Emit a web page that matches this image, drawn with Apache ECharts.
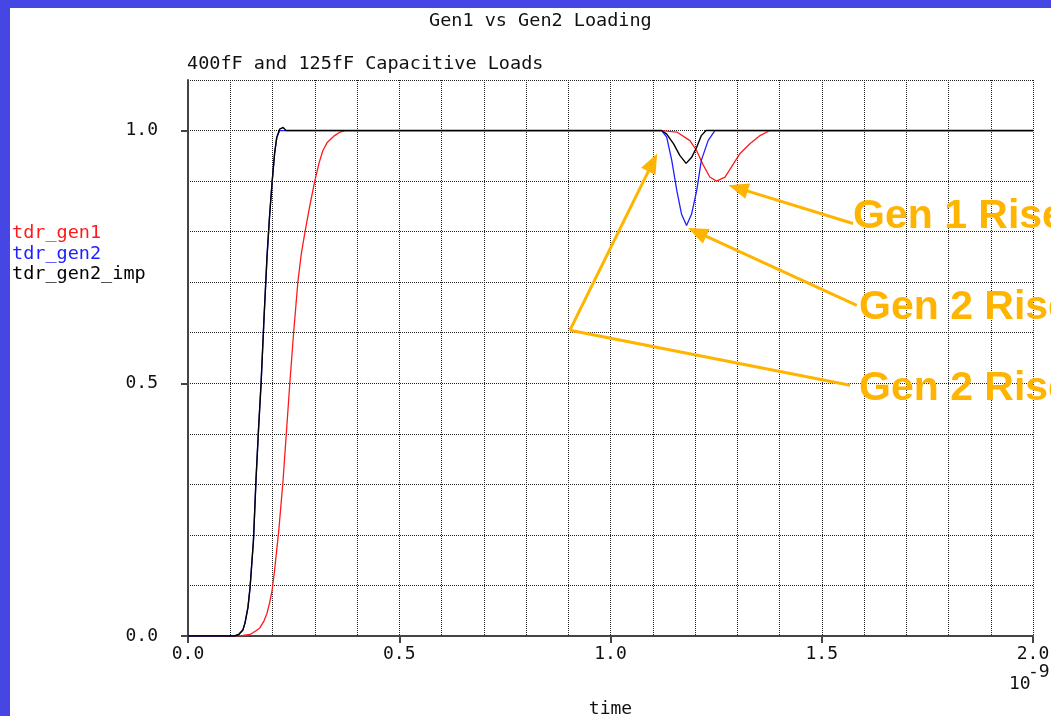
<!DOCTYPE html>
<html>
<head>
<meta charset="utf-8">
<script src="https://cdn.jsdelivr.net/npm/echarts@6/dist/echarts.min.js"></script>
<style>
  html, body { margin: 0; padding: 0; }
  body { width: 1051px; height: 716px; background: #4646e4; position: relative; overflow: hidden; }
  #panel { position: absolute; left: 10px; top: 8px; width: 1041px; height: 708px; background: #fff; }
  #chart { position: absolute; left: 0; top: 0; width: 1051px; height: 716px; }
</style>
</head>
<body>
<div id="panel"></div>
<div id="chart"></div>
<script>
// time in ns
const gen1Time = [0, 0.11, 0.13, 0.147, 0.16, 0.17, 0.18, 0.187, 0.193, 0.199, 0.205, 0.215, 0.225, 0.241, 0.25, 0.26, 0.268, 0.277, 0.288, 0.3, 0.31, 0.319, 0.33, 0.347, 0.36, 0.372,
  1.121, 1.157, 1.188, 1.204, 1.22, 1.235, 1.251, 1.271, 1.291, 1.306, 1.33, 1.354, 1.377, 2.0];
const gen1Val = [0, 0, 0.001, 0.003, 0.01, 0.016, 0.03, 0.045, 0.065, 0.09, 0.13, 0.21, 0.308, 0.5, 0.6, 0.7, 0.755, 0.8, 0.85, 0.9, 0.935, 0.96, 0.977, 0.99, 0.997, 1.0,
  1.0, 0.997, 0.98, 0.96, 0.931, 0.908, 0.9, 0.908, 0.934, 0.954, 0.974, 0.99, 1.0, 1.0];

const gen2Time = [0, 0.11, 0.12, 0.13, 0.135, 0.142, 0.147, 0.155, 0.161, 0.167, 0.173, 0.18, 0.187, 0.193, 0.199, 0.205, 0.21, 0.217, 0.225, 0.232, 0.24,
  1.121, 1.133, 1.145, 1.157, 1.168, 1.18, 1.192, 1.204, 1.215, 1.231, 1.247, 2.0];
const gen2Val = [0, 0, 0.003, 0.012, 0.026, 0.057, 0.097, 0.19, 0.31, 0.41, 0.5, 0.63, 0.75, 0.83, 0.897, 0.955, 0.986, 1.0, 1.0, 1.0, 1.0,
  1.0, 0.987, 0.941, 0.881, 0.835, 0.812, 0.835, 0.881, 0.941, 0.98, 1.0, 1.0];

const impTime = [0, 0.11, 0.12, 0.13, 0.135, 0.142, 0.147, 0.155, 0.161, 0.167, 0.173, 0.18, 0.187, 0.193, 0.199, 0.205, 0.21, 0.217, 0.225, 0.232, 0.24,
  1.121, 1.133, 1.149, 1.164, 1.179, 1.192, 1.204, 1.215, 1.226, 2.0];
const impVal = [0, 0, 0.003, 0.012, 0.026, 0.057, 0.097, 0.19, 0.31, 0.41, 0.5, 0.63, 0.75, 0.83, 0.897, 0.955, 0.986, 1.003, 1.006, 1.0, 1.0,
  1.0, 0.993, 0.974, 0.951, 0.935, 0.947, 0.967, 0.99, 1.0, 1.0];

const seriesNames = ['tdr_gen1', 'tdr_gen2', 'tdr_gen2_imp'];
const xLabelValues = [0, 0.5, 1.0, 1.5, 2.0];
const yLabelValues = [0, 0.5, 1.0];

const zip = (t, v) => t.map((x, i) => [x, v[i]]);

const mono = '"DejaVu Sans Mono", monospace';
const sans = '"Liberation Sans", Arial, sans-serif';
const orange = '#FFB400';
const colors = ['#ff1a1a', '#2020ff', '#000000'];
const gridLine = { show: true, lineStyle: { color: '#222', type: [1, 1], width: 1 } };

// annotation arrows, in data coords (time, value)
const arrowLine = (from, to, head) => [
  { coord: from, symbol: 'none' },
  { coord: to, symbol: head ? 'triangle' : 'none' }
];

const chart = echarts.init(document.getElementById('chart'));

const option = {
  animation: false,
  backgroundColor: 'transparent',
  title: [
    { text: 'Gen1 vs Gen2 Loading', left: 429, top: 12, padding: 0,
      textStyle: { fontFamily: mono, fontSize: 18.5, fontWeight: 'normal', color: '#111' } },
    { text: '400fF and 125fF Capacitive Loads', left: 187, top: 55, padding: 0,
      textStyle: { fontFamily: mono, fontSize: 18.5, fontWeight: 'normal', color: '#111' } }
  ],
  legend: {
    orient: 'vertical',
    left: 7,
    top: 222.5,
    padding: 0,
    itemWidth: 0,
    itemHeight: 0,
    itemGap: 0,
    selectedMode: false,
    textStyle: { fontFamily: mono, fontSize: 18.5, lineHeight: 20.8 },
    data: seriesNames.map((n, i) => ({ name: n, icon: 'rect', textStyle: { color: colors[i] } }))
  },
  grid: { left: 188, top: 80, right: 18, bottom: 80, outerBoundsMode: 'none', containLabel: false },
  xAxis: [
    {
      type: 'value',
      min: 0,
      max: 2.0,
      interval: 0.1,
      name: 'time',
      nameLocation: 'middle',
      nameGap: 64,
      nameTextStyle: { fontFamily: mono, fontSize: 18, color: '#111' },
      axisLine: { lineStyle: { color: '#444', width: 2 } },
      axisTick: { customValues: xLabelValues, length: 7, lineStyle: { color: '#444', width: 2 } },
      axisLabel: { customValues: xLabelValues, margin: 9, fontFamily: mono, fontSize: 18, color: '#111',
        formatter: v => v.toFixed(1) },
      splitLine: { show: false },
      z: 3
    },
    {
      // grid lines every 0.1
      type: 'value', min: 0, max: 2.0, interval: 0.1, position: 'bottom',
      axisLine: { show: false }, axisTick: { show: false }, axisLabel: { show: false },
      splitLine: gridLine, z: 1
    }
  ],
  yAxis: [
    {
      type: 'value',
      min: 0,
      max: 1.1,
      interval: 0.1,
      axisLine: { show: true, lineStyle: { color: '#444', width: 2 } },
      axisTick: { show: true, customValues: yLabelValues, length: 7, lineStyle: { color: '#444', width: 2 } },
      axisLabel: { customValues: yLabelValues, margin: 30, fontFamily: mono, fontSize: 18, color: '#111',
        formatter: v => v.toFixed(1) },
      splitLine: { show: false },
      z: 3
    },
    {
      type: 'value', min: 0, max: 1.1, interval: 0.1, position: 'left',
      axisLine: { show: false }, axisTick: { show: false }, axisLabel: { show: false },
      splitLine: gridLine, z: 1
    }
  ],
  series: [
    { name: seriesNames[0], type: 'line', data: zip(gen1Time, gen1Val), showSymbol: false,
      color: colors[0], lineStyle: { width: 1.3 }, z: 3 },
    { name: seriesNames[1], type: 'line', data: zip(gen2Time, gen2Val), showSymbol: false,
      color: colors[1], lineStyle: { width: 1.3 }, z: 4 },
    { name: seriesNames[2], type: 'line', data: zip(impTime, impVal), showSymbol: false,
      color: colors[2], lineStyle: { width: 1.4 }, z: 5,
      markLine: {
        silent: true,
        symbolSize: [16, 20],
        label: { show: false },
        lineStyle: { color: orange, width: 3, type: 'solid' },
        emphasis: { disabled: true },
        data: [
          arrowLine([1.574, 0.816], [1.302, 0.886], true),
          arrowLine([1.583, 0.654], [1.205, 0.799], true),
          arrowLine([1.567, 0.496], [0.904, 0.605], false),
          arrowLine([0.904, 0.605], [1.100, 0.937], true)
        ]
      }
    }
  ],
  graphic: [
    { type: 'text', x: 853, y: 217, z: 100,
      style: { text: 'Gen 1 Rise', fill: orange, fontFamily: sans, fontWeight: 'bold', fontSize: 41, verticalAlign: 'middle' } },
    { type: 'text', x: 859, y: 308, z: 100,
      style: { text: 'Gen 2 Rise', fill: orange, fontFamily: sans, fontWeight: 'bold', fontSize: 41, verticalAlign: 'middle' } },
    { type: 'text', x: 859, y: 389, z: 100,
      style: { text: 'Gen 2 Rise', fill: orange, fontFamily: sans, fontWeight: 'bold', fontSize: 41, verticalAlign: 'middle' } },
    { type: 'text', x: 1009, y: 684, style: { text: '10', fill: '#111', fontFamily: mono, fontSize: 18, verticalAlign: 'middle' } },
    { type: 'text', x: 1028, y: 672, style: { text: '-9', fill: '#111', fontFamily: mono, fontSize: 18, verticalAlign: 'middle' } }
  ]
};

chart.setOption(option);
</script>
</body>
</html>
